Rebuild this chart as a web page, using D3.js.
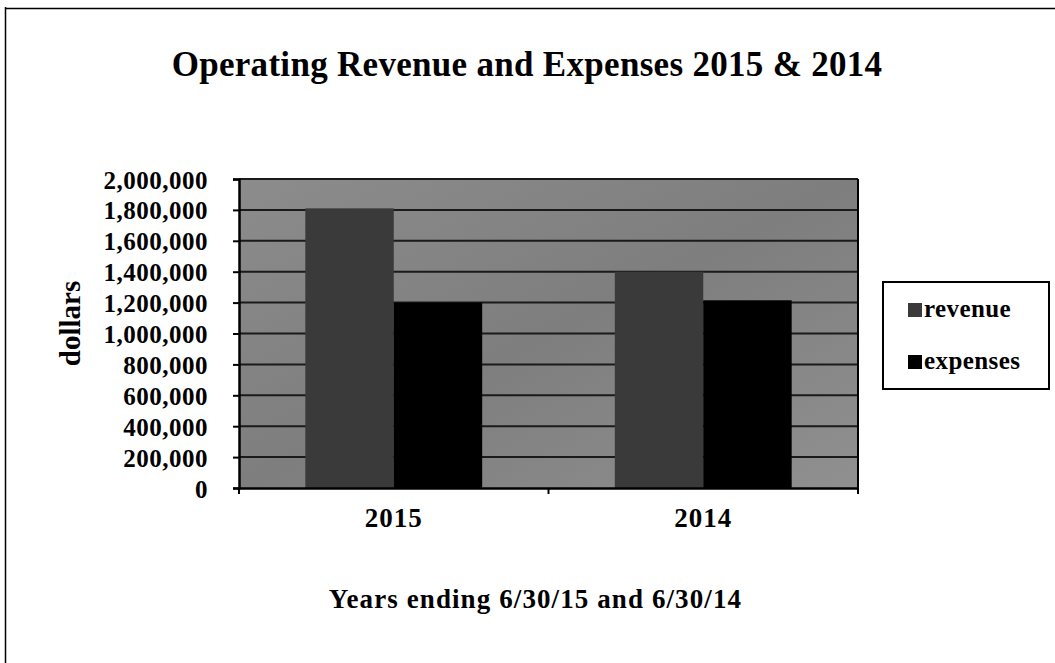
<!DOCTYPE html>
<html>
<head>
<meta charset="utf-8">
<script src="https://cdn.jsdelivr.net/npm/d3@7"></script>
<style>
  body { margin: 0; background: #fff; }
  text { font-family: "Liberation Serif", "Times New Roman", serif; font-weight: bold; fill: #000; }
</style>
</head>
<body>
<div id="chart-area"></div>
<script>
// data
let years = ["2015", "2014"];
let series = ["revenue", "expenses"];
let revenue = [1810000, 1400000];
let expenses = [1200000, 1215000];
let yTicks = [0, 200000, 400000, 600000, 800000, 1000000, 1200000, 1400000, 1600000, 1800000, 2000000];

let W = 1055, H = 663;
let margin = {left: 239, right: 197, top: 179, bottom: 175};
let width = W - margin.left - margin.right,
    height = H - margin.top - margin.bottom;

let svg = d3.select("#chart-area")
    .append("svg")
    .attr("width", W)
    .attr("height", H);

// outer frame (only top and left edges are in the scan)
svg.append("line").attr("x1", 5.5).attr("y1", 7).attr("x2", 5.5).attr("y2", H)
    .attr("stroke", "#000").attr("stroke-width", 1.5);
svg.append("line").attr("x1", 5).attr("y1", 8.5).attr("x2", W).attr("y2", 8.5)
    .attr("stroke", "#000").attr("stroke-width", 1.5);

svg.append("text")
    .attr("x", 527)
    .attr("y", 76)
    .attr("font-size", "35px")
    .attr("letter-spacing", "0.3px")
    .attr("text-anchor", "middle")
    .text("Operating Revenue and Expenses 2015 & 2014");

let g = svg.append("g")
    .attr("transform", "translate(" + margin.left + ", " + margin.top + ")");

// Scales
let x0 = d3.scaleBand()
    .domain(years)
    .range([0, width]);
let x1 = d3.scaleBand()
    .domain(series)
    .range([0, x0.bandwidth()])
    .paddingOuter(0.75);
let y = d3.scaleLinear()
    .domain([0, 2000000])
    .range([height, 0]);
let color = d3.scaleOrdinal()
    .domain(series)
    .range(["#3a3a3a", "#000000"]);

// plot background
let bg = svg.append("defs").append("linearGradient")
    .attr("id", "bg").attr("x1", 0).attr("y1", 0).attr("x2", 1).attr("y2", 1);
bg.append("stop").attr("offset", "0%").attr("stop-color", "#8c8c8c");
bg.append("stop").attr("offset", "50%").attr("stop-color", "#7e7e7e");
bg.append("stop").attr("offset", "100%").attr("stop-color", "#909090");

g.append("rect")
    .attr("width", width)
    .attr("height", height)
    .attr("fill", "url(#bg)");

// gridlines
g.selectAll(".grid")
    .data(yTicks.slice(1))
    .enter().append("line")
    .attr("class", "grid")
    .attr("x1", 0).attr("x2", width)
    .attr("y1", d => y(d)).attr("y2", d => y(d))
    .attr("stroke", "#1a1a1a")
    .attr("stroke-width", 2);

// bars
let rows = years.map((yr, i) => ({year: yr, revenue: revenue[i], expenses: expenses[i]}));
g.selectAll(".year")
    .data(rows)
    .enter().append("g")
    .attr("class", "year")
    .attr("transform", d => "translate(" + x0(d.year) + ",0)")
    .selectAll("rect")
    .data(d => series.map(s => ({key: s, value: d[s]})))
    .enter().append("rect")
    .attr("x", d => x1(d.key))
    .attr("width", x1.bandwidth())
    .attr("y", d => y(d.value))
    .attr("height", d => height - y(d.value))
    .attr("fill", d => color(d.key));

// right edge of plot
g.append("line")
    .attr("x1", width).attr("x2", width).attr("y1", 0).attr("y2", height + 6)
    .attr("stroke", "#000").attr("stroke-width", 2);

// Y Axis
let yAxisCall = d3.axisLeft(y)
    .tickValues(yTicks)
    .tickSize(6)
    .tickFormat(d3.format(","));
let yAxis = g.append("g")
    .attr("class", "y axis")
    .call(yAxisCall);
yAxis.selectAll("text")
    .attr("font-size", "25px")
    .attr("letter-spacing", "0.5px")
    .attr("dx", "-22")
    .attr("dy", "0.36em");
yAxis.select(".domain").attr("stroke-width", 2.5);
yAxis.selectAll(".tick line").attr("stroke-width", 2);

// X Axis
let xAxisCall = d3.axisBottom(x0)
    .tickSize(0)
    .tickSizeOuter(0);
let xAxis = g.append("g")
    .attr("class", "x axis")
    .attr("transform", "translate(0," + height + ")")
    .call(xAxisCall);
xAxis.selectAll("text")
    .attr("font-size", "27px")
    .attr("letter-spacing", "1px")
    .attr("y", 39)
    .attr("dy", null);
xAxis.select(".domain").attr("stroke-width", 2.5);
xAxis.selectAll(".sep")
    .data([0, width / 2, width])
    .enter().append("line")
    .attr("x1", d => d).attr("x2", d => d)
    .attr("y1", 0).attr("y2", 6)
    .attr("stroke", "#000").attr("stroke-width", 2);

// Labels
g.append("text")
    .attr("y", height + 120)
    .attr("x", width / 2 - 13)
    .attr("font-size", "27px")
    .attr("letter-spacing", "1.1px")
    .attr("text-anchor", "middle")
    .text("Years ending 6/30/15 and 6/30/14");
g.append("text")
    .attr("transform", "rotate(-90)")
    .attr("y", -159)
    .attr("x", -(height / 2 - 10))
    .attr("font-size", "29px")
    .attr("text-anchor", "middle")
    .text("dollars");

// LEGEND
let legend = svg.append("g")
    .attr("transform", "translate(883,282)");
legend.append("rect")
    .attr("width", 166)
    .attr("height", 107)
    .attr("fill", "#fff")
    .attr("stroke", "#000")
    .attr("stroke-width", 2);

series.forEach((s, i) => {
    let legendRow = legend.append("g")
        .attr("transform", "translate(25," + (21 + i * 52) + ")");
    legendRow.append("rect")
        .attr("width", 14)
        .attr("height", 14)
        .attr("fill", color(s));
    legendRow.append("text")
        .attr("x", 16)
        .attr("y", 14)
        .attr("font-size", "25px")
        .attr("letter-spacing", "0.4px")
        .text(s);
});
</script>
</body>
</html>
